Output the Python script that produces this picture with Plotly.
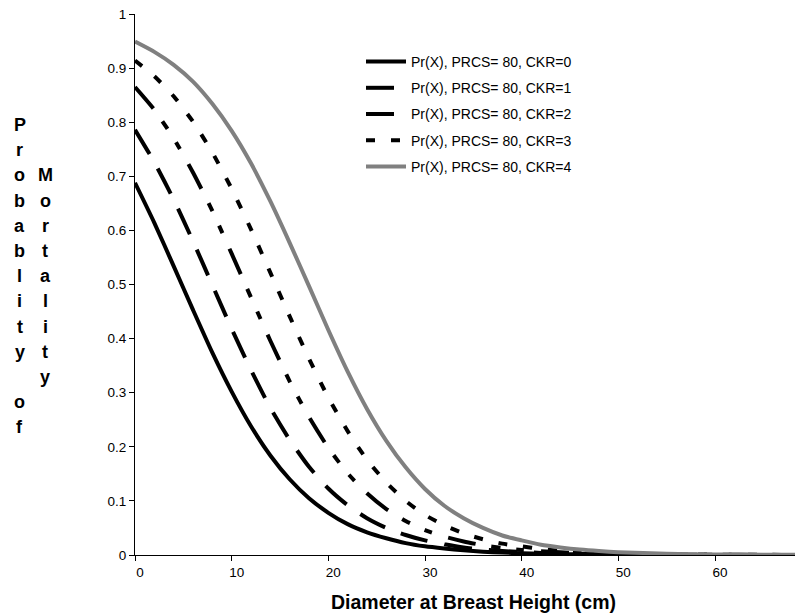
import plotly.graph_objects as go

# ---- data ----
dbh = [0, 2, 4, 6, 8, 10, 12, 14, 16, 18, 20, 22, 24, 26, 28, 30, 32, 34, 36, 38,
       40, 42, 44, 46, 48, 50, 55, 60, 65, 69]

pr_ckr0 = [0.688, 0.614, 0.534, 0.453, 0.374, 0.302, 0.238, 0.184, 0.140, 0.105,
           0.078, 0.057, 0.042, 0.031, 0.022, 0.016, 0.012, 0.0086, 0.0062, 0.0045,
           0.0032, 0.0023, 0.0017, 0.0012, 0.0009, 0.0006, 0.0003, 0.0001, 0.0, 0.0]
pr_ckr1 = [0.786, 0.726, 0.657, 0.580, 0.499, 0.418, 0.342, 0.272, 0.213, 0.163,
           0.123, 0.092, 0.068, 0.050, 0.037, 0.027, 0.020, 0.014, 0.010, 0.0074,
           0.0054, 0.0039, 0.0028, 0.0020, 0.0015, 0.0011, 0.0005, 0.0002, 0.0001, 0.0]
pr_ckr2 = [0.865, 0.823, 0.770, 0.707, 0.636, 0.557, 0.476, 0.396, 0.321, 0.255,
           0.198, 0.151, 0.114, 0.085, 0.063, 0.046, 0.034, 0.025, 0.018, 0.013,
           0.0094, 0.0068, 0.0049, 0.0036, 0.0026, 0.0019, 0.0008, 0.0004, 0.0002, 0.0001]
pr_ckr3 = [0.914, 0.885, 0.848, 0.801, 0.744, 0.677, 0.602, 0.522, 0.441, 0.363,
           0.291, 0.229, 0.176, 0.134, 0.100, 0.074, 0.055, 0.040, 0.029, 0.021,
           0.016, 0.011, 0.0081, 0.0059, 0.0043, 0.0031, 0.0014, 0.0006, 0.0003, 0.0001]
pr_ckr4 = [0.949, 0.930, 0.906, 0.875, 0.834, 0.784, 0.724, 0.654, 0.577, 0.497,
           0.416, 0.339, 0.270, 0.211, 0.162, 0.122, 0.091, 0.068, 0.050, 0.036,
           0.027, 0.019, 0.014, 0.010, 0.0073, 0.0053, 0.0024, 0.0010, 0.0005, 0.0002]

series_names = ["Pr(X), PRCS= 80, CKR=0", "Pr(X), PRCS= 80, CKR=1",
                "Pr(X), PRCS= 80, CKR=2", "Pr(X), PRCS= 80, CKR=3",
                "Pr(X), PRCS= 80, CKR=4"]
series_values = [pr_ckr0, pr_ckr1, pr_ckr2, pr_ckr3, pr_ckr4]

x_ticks = [0, 10, 20, 30, 40, 50, 60]
y_ticks = [0, 0.1, 0.2, 0.3, 0.4, 0.5, 0.6, 0.7, 0.8, 0.9, 1]

x_title = "Diameter at Breast Height (cm)"
y_title_col1 = "Probablity of"
y_title_col2 = "Mortality"

# ---- styling ----
FONT = "Liberation Sans, Arial, sans-serif"
OFF = 8                      # default page body margin
W, H = 803 - OFF, 615 - OFF
L, R, T, B = 135 - OFF, 1, 14 - OFF, 60
PW, PH = W - L - R, H - T - B

line_styles = [
    dict(color="black", width=4, dash="solid"),
    dict(color="black", width=4, dash="28px,17px"),
    dict(color="black", width=4, dash="28px,16px,9px,16px,8px,17px"),
    dict(color="black", width=4, dash="9px,16px"),
    dict(color="#808080", width=4, dash="solid"),
]

fig = go.Figure()
for i, (name, vals) in enumerate(zip(series_names, series_values)):
    fig.add_trace(go.Scatter(
        x=dbh, y=vals, mode="lines", name=name,
        line=dict(shape="spline", smoothing=0.6, **line_styles[i]),
        legendgroup=f"g{i}",
    ))


def px_to_paper(px, py):
    """page pixel -> paper coords"""
    fx, fy = px - OFF, py - OFF
    return (fx - L) / PW, (H - B - fy) / PH


annotations = []
ax, ay = px_to_paper(473, 602)
annotations.append(dict(text=x_title, x=ax, y=ay, xref="paper", yref="paper",
                        showarrow=False, xanchor="center", yanchor="middle",
                        font=dict(family=FONT, size=19.5, color="black", weight="bold")))
LINE0, STEP = 125, 25.2
for k, ch in enumerate(y_title_col1):
    if ch.strip():
        tx, ty = px_to_paper(20, LINE0 + STEP * k)
        annotations.append(dict(text=ch, x=tx, y=ty, xref="paper", yref="paper",
                                showarrow=False, xanchor="center", yanchor="middle",
                                font=dict(family=FONT, size=18, color="black", weight="bold")))
for k, ch in enumerate(y_title_col2):
    tx, ty = px_to_paper(45, LINE0 + STEP * (k + 2))
    annotations.append(dict(text=ch, x=tx, y=ty, xref="paper", yref="paper",
                            showarrow=False, xanchor="center", yanchor="middle",
                            font=dict(family=FONT, size=18, color="black", weight="bold")))

lx, ly = px_to_paper(361, 46)
fig.update_layout(
    width=W, height=H, autosize=False,
    margin=dict(l=L, r=R, t=T, b=B, pad=0, autoexpand=False),
    paper_bgcolor="white", plot_bgcolor="white",
    font=dict(family=FONT, size=13.5, color="black"),
    showlegend=True,
    legend=dict(
        x=lx, y=ly, xanchor="left", yanchor="top",
        bgcolor="rgba(0,0,0,0)", borderwidth=0,
        font=dict(family=FONT, size=14, color="black"),
        tracegroupgap=5, traceorder="grouped", itemwidth=40,
    ),
    annotations=annotations,
)

fig.update_xaxes(
    range=[0, 69], tickmode="array", tickvals=x_ticks,
    ticks="outside", ticklen=5, tickcolor="black", tickwidth=1,
    showline=True, linecolor="black", linewidth=1,
    showgrid=False, zeroline=False, ticklabelshift=5,
    ticklabeloverflow="allow",
    tickfont=dict(family=FONT, size=13.5, color="black"),
)
fig.update_yaxes(
    range=[0, 1], tickmode="array", tickvals=y_ticks,
    ticks="outside", ticklen=5, tickcolor="black", tickwidth=1,
    showline=True, linecolor="black", linewidth=1,
    showgrid=False, zeroline=False, ticklabeloverflow="allow",
    tickfont=dict(family=FONT, size=13.5, color="black"),
)

fig.write_html("out.html")
